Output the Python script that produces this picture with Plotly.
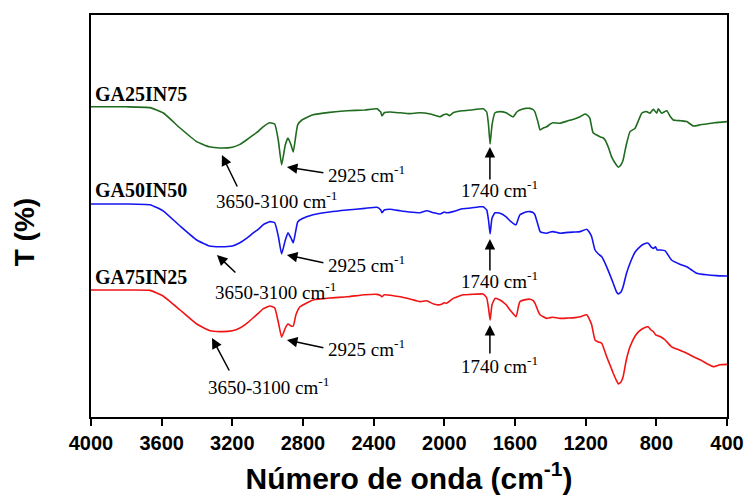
import plotly.graph_objects as go

# ---- data (wavenumber, transmittance in arbitrary %) ----
wn_ga25 = [4000, 3800, 3666, 3592, 3496, 3402, 3330, 3270, 3200, 3157, 3120, 3083, 3050, 3026, 2987, 2960, 2940,
           2921, 2900, 2885, 2868, 2855, 2840, 2830, 2806, 2743, 2650, 2551, 2450, 2381, 2360, 2353,
           2340, 2307, 2250, 2200, 2138, 2080, 2024, 2005, 1987, 1970, 1950, 1900, 1850, 1780, 1760,
           1750, 1741, 1730, 1713, 1685, 1650, 1611, 1590, 1572, 1540, 1515, 1495, 1487, 1470, 1458,
           1440, 1421, 1400, 1385, 1345, 1300, 1260, 1232, 1204, 1185, 1176, 1165, 1158, 1140, 1119,
           1100, 1090, 1070, 1053, 1030, 1015, 1000, 988, 970, 949, 921, 900, 883, 870, 855,
           836, 817, 798, 789, 770, 741, 720, 704, 660, 628, 590, 550, 515, 470, 400]
t_ga25 = [77.8, 77.8, 77.6, 76.3, 72.5, 69.1, 67.8, 67.5, 67.7, 68.4, 69.5, 70.7, 71.8, 72.8, 73.8, 73.5, 69.5,
          63.3, 68.3, 70.0, 68.3, 66.5, 70.8, 73.3, 74.5, 75.8, 76.4, 76.8, 77.0, 77.3, 76.5, 75.5,
          76.3, 76.5, 76.3, 76.1, 76.3, 76.0, 75.3, 75.8, 76.0, 75.6, 76.3, 76.8, 77.0, 77.3, 76.5,
          73.3, 68.5, 73.3, 76.3, 76.6, 76.3, 75.3, 76.5, 77.0, 77.4, 77.4, 77.0, 76.5, 74.0, 72.0,
          72.5, 72.8, 73.5, 73.8, 73.7, 74.3, 74.8, 75.3, 76.0, 75.5, 74.9, 72.5, 71.3, 70.8, 70.3,
          70.0, 69.5, 67.5, 65.3, 63.5, 62.7, 63.3, 64.5, 68.3, 71.6, 72.4, 74.5, 76.2, 76.5, 76.6,
          76.2, 77.2, 76.2, 77.3, 76.2, 76.8, 75.3, 74.5, 74.3, 74.1, 73.0, 73.3, 73.5, 73.8, 74.1]

wn_ga50 = [4000, 3800, 3666, 3592, 3496, 3402, 3330, 3270, 3200, 3157, 3120, 3083, 3050, 3026, 2987, 2960, 2940,
           2921, 2900, 2885, 2868, 2855, 2840, 2830, 2806, 2743, 2650, 2551, 2450, 2381, 2360, 2353,
           2340, 2307, 2250, 2200, 2138, 2100, 2060, 2024, 2000, 1987, 1950, 1900, 1850, 1800, 1780,
           1760, 1750, 1741, 1730, 1713, 1685, 1650, 1628, 1594, 1580, 1572, 1540, 1515, 1495, 1487,
           1470, 1458, 1440, 1421, 1400, 1385, 1345, 1300, 1260, 1232, 1194, 1180, 1166, 1147, 1128,
           1109, 1081, 1060, 1044, 1025, 1015, 1000, 988, 970, 949, 920, 893, 870, 846, 830,
           817, 805, 795, 776, 750, 714, 670, 628, 600, 572, 515, 460, 400]
t_ga50 = [53.5, 53.5, 53.3, 51.8, 48.0, 44.5, 43.0, 42.8, 43.0, 43.8, 44.9, 46.2, 47.3, 48.3, 49.1, 48.8, 45.5,
          41.0, 44.5, 46.3, 45.0, 43.8, 47.0, 49.0, 49.8, 50.8, 51.5, 52.0, 52.4, 52.7, 52.0, 51.3,
          52.0, 52.2, 51.8, 51.5, 51.3, 51.8, 51.3, 51.0, 51.5, 51.3, 51.6, 52.3, 52.5, 52.8, 52.8,
          52.0, 49.5, 46.0, 50.0, 51.3, 51.2, 50.3, 49.3, 48.3, 50.0, 50.8, 51.5, 51.6, 51.3, 50.8,
          48.3, 46.6, 46.3, 46.2, 46.5, 46.6, 46.2, 46.4, 46.5, 46.6, 47.2, 46.5, 45.3, 42.0, 41.0,
          40.3, 37.8, 35.5, 33.7, 31.5, 31.0, 31.5, 32.8, 36.0, 38.7, 41.5, 42.8, 43.5, 43.7, 42.8,
          42.4, 42.8, 42.0, 42.0, 41.8, 39.5, 38.5, 37.8, 37.0, 36.2, 35.8, 35.6, 35.5]

wn_ga75 = [4000, 3800, 3666, 3592, 3496, 3402, 3330, 3270, 3200, 3157, 3120, 3083, 3050, 3026, 2987, 2960, 2940,
           2921, 2900, 2885, 2868, 2855, 2840, 2817, 2743, 2650, 2551, 2450, 2381, 2360, 2353, 2340,
           2250, 2200, 2138, 2100, 2060, 2024, 2000, 1987, 1950, 1893, 1850, 1780, 1760, 1750, 1741,
           1730, 1713, 1685, 1650, 1628, 1594, 1580, 1572, 1540, 1515, 1495, 1487, 1470, 1458, 1440,
           1421, 1400, 1385, 1345, 1300, 1260, 1232, 1194, 1180, 1166, 1147, 1128, 1109, 1081, 1060,
           1044, 1025, 1015, 1000, 988, 970, 949, 920, 900, 870, 846, 830, 817, 804, 776,
           750, 714, 670, 628, 590, 549, 510, 474, 440, 400]
t_ga75 = [32.0, 32.0, 31.9, 30.5, 27.0, 23.5, 21.9, 21.6, 21.8, 22.5, 23.6, 25.0, 26.3, 27.3, 28.0, 27.5, 24.0,
          20.2, 22.5, 23.5, 23.0, 23.0, 25.8, 27.8, 29.5, 30.0, 30.3, 30.8, 30.9, 30.6, 30.3, 30.8,
          30.3, 29.8, 29.1, 29.3, 28.5, 28.3, 28.8, 28.7, 29.9, 30.8, 30.9, 31.0, 30.0, 27.5, 24.5,
          28.3, 29.9, 29.5, 28.3, 27.0, 25.3, 28.0, 29.1, 29.6, 29.7, 29.3, 28.7, 26.8, 25.8, 25.3,
          24.9, 25.1, 25.2, 24.9, 25.0, 25.1, 25.3, 25.8, 24.8, 23.3, 19.5, 19.0, 18.7, 15.3, 13.0,
          11.2, 9.3, 8.5, 9.0, 10.3, 14.5, 17.8, 20.5, 21.6, 22.5, 22.8, 22.0, 21.6, 20.8, 20.3,
          19.5, 17.8, 17.0, 16.2, 15.3, 14.5, 13.5, 12.8, 13.3, 13.4]

series_names = ["GA25IN75", "GA50IN50", "GA75IN25"]
series_colors = ["#1f6b1f", "#1414f0", "#f01414"]

# sample labels: (wavenumber, T)
label_pos = [(3990, 81.1), (3990, 56.9), (3990, 35.3)]

# band annotations: text, text position (wn, T), arrow head (wn, T), arrow tail (wn, T)
band_text = ["3650-3100 cm<sup>-1</sup>", "2925 cm<sup>-1</sup>", "1740 cm<sup>-1</sup>"]
band_text_pos = [
    [(2950, 54.6), (2956, 31.8), (2995, 7.9)],
    [(2672, 60.9), (2672, 38.6), (2672, 17.4)],
    [(1685, 57.2), (1685, 34.6), (1685, 13.2)],
]
band_head = [
    [(3259, 65.75), (3287, 40.75), (3315, 20.0)],
    [(2891, 62.75), (2891, 40.75), (2891, 19.5)],
    [(1742, 67.75), (1742, 44.75), (1742, 23.25)],
]
band_tail = [
    [(3168, 57.5), (3174, 36.0), (3213, 11.5)],
    [(2676, 61.25), (2676, 38.75), (2676, 17.5)],
    [(1742, 59.25), (1742, 36.5), (1742, 15.75)],
]

x_ticks = [4000, 3600, 3200, 2800, 2400, 2000, 1600, 1200, 800, 400]

fig = go.Figure()
for wn, t, name, col in zip([wn_ga25, wn_ga50, wn_ga75], [t_ga25, t_ga50, t_ga75],
                            series_names, series_colors):
    fig.add_trace(go.Scatter(x=wn, y=t, mode="lines", name=name,
                             line=dict(color=col, width=1.6, shape="spline", smoothing=0.4)))

annotations = []
serif = dict(family="Liberation Serif, Times New Roman, serif", color="black")
for name, (lx, ly) in zip(series_names, label_pos):
    annotations.append(dict(x=lx, y=ly, xref="x", yref="y", text="<b>" + name + "</b>",
                            showarrow=False, xanchor="left", yanchor="middle",
                            font=dict(size=20, **serif)))

for bi, txt in enumerate(band_text):
    for si in range(3):
        tx, ty = band_text_pos[bi][si]
        hx, hy = band_head[bi][si]
        ax_, ay_ = band_tail[bi][si]
        xanchor = "left" if bi == 1 else "center"
        annotations.append(dict(x=tx, y=ty, xref="x", yref="y", text=txt, showarrow=False,
                                xanchor=xanchor, yanchor="middle",
                                font=dict(size=19, **serif)))
        annotations.append(dict(x=hx, y=hy, xref="x", yref="y", ax=ax_, ay=ay_,
                                axref="x", ayref="y", text="", showarrow=True,
                                arrowhead=2, arrowsize=1.4, arrowwidth=1.5,
                                arrowcolor="black", standoff=0, startstandoff=0))

# y-axis title as rotated annotation (placed slightly below centre as in the original)
annotations.append(dict(x=-0.105, y=0.46, xref="paper", yref="paper", text="T (%)",
                        textangle=-90, showarrow=False, xanchor="center", yanchor="middle",
                        font=dict(family="Liberation Sans, Arial, sans-serif", size=28,
                                  color="black", weight="bold")))

fig.update_layout(
    width=748, height=495,
    margin=dict(l=91, r=21, t=15, b=78, autoexpand=False),
    paper_bgcolor="white", plot_bgcolor="white",
    showlegend=False,
    annotations=annotations,
    xaxis=dict(range=[4000, 400], tickvals=x_ticks, ticktext=[str(v) for v in x_ticks],
               automargin=False,
               showline=True, linecolor="black", linewidth=2, mirror=True,
               ticks="outside", ticklen=7, tickwidth=2, tickcolor="black",
               showgrid=False, zeroline=False,
               tickfont=dict(family="Liberation Sans, Arial, sans-serif", size=20,
                             color="black", weight="bold"),
               title=dict(text="Número de onda (cm<sup>-1</sup>)", standoff=18,
                          font=dict(family="Liberation Sans, Arial, sans-serif", size=30,
                                    color="black", weight="bold"))),
    yaxis=dict(range=[0.25, 100.75], showticklabels=False, ticks="", automargin=False,
               showline=True, linecolor="black", linewidth=2, mirror=True,
               showgrid=False, zeroline=False),
)

fig.write_html("out.html")
